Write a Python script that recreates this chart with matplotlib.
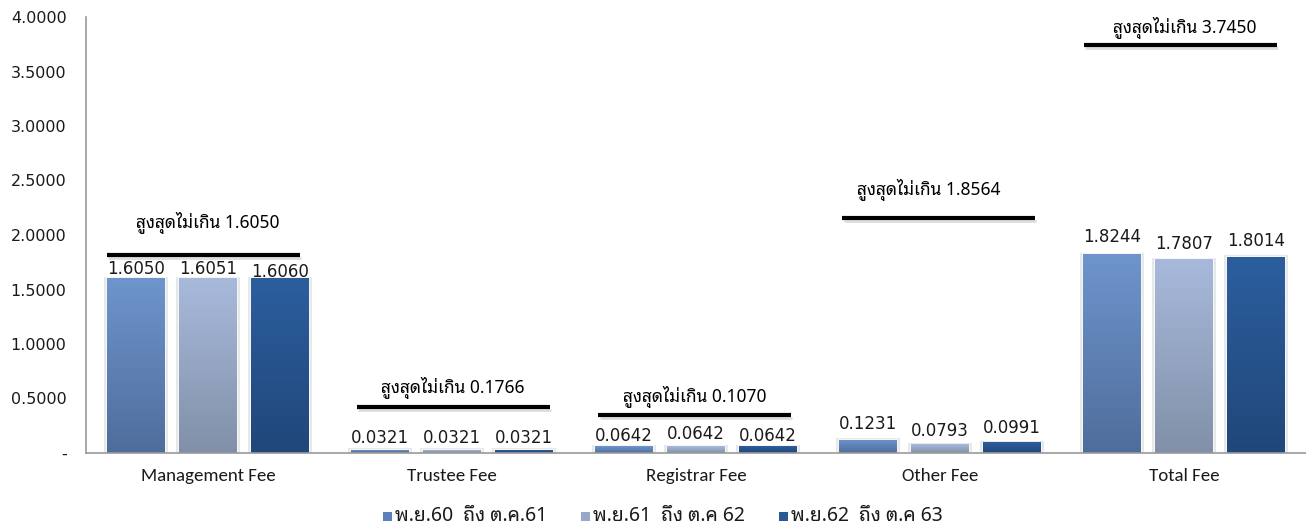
import matplotlib
matplotlib.use("Agg")
import matplotlib.pyplot as plt
import numpy as np
from matplotlib import font_manager as fm
from matplotlib.colors import LinearSegmentedColormap
from matplotlib.patches import Rectangle

# ---------------- data ----------------
categories = ["Management Fee", "Trustee Fee", "Registrar Fee", "Other Fee", "Total Fee"]
series_names = ["พ.ย.60  ถึง ต.ค.61", "พ.ย.61  ถึง ต.ค 62", "พ.ย.62  ถึง ต.ค 63"]
fy61 = [1.6050, 0.0321, 0.0642, 0.1231, 1.8244]
fy62 = [1.6051, 0.0321, 0.0642, 0.0793, 1.7807]
fy63 = [1.6060, 0.0321, 0.0642, 0.0991, 1.8014]
caps = [1.6050, 0.1766, 0.1070, 1.8564, 3.7450]
cap_label = "สูงสุดไม่เกิน"
yticks = [0.0, 0.5, 1.0, 1.5, 2.0, 2.5, 3.0, 3.5, 4.0]

# ---------------- fonts ----------------
available = {f.name for f in fm.fontManager.ttflist}
def pick(cands, default="DejaVu Sans"):
    for c in cands:
        if c in available:
            return c
    return default

thai = pick(["Noto Sans Thai Looped", "Noto Sans Thai", "Sarabun", "Krub", "Bai Jamjuree"])
latin = pick(["Carlito", "Open Sans", "Lato", "DejaVu Sans"])
plt.rcParams['font.family'] = [thai, 'DejaVu Sans']

# ---------------- styles ----------------
grads = [("#6E95CD", "#4F6D9C"), ("#A8BADC", "#8190A8"), ("#2C5E9E", "#20477A")]
legend_cols = ["#5B80BA", "#98A8C8", "#2A5A96"]
bar_w = 0.235
offsets = [-0.295, 0.0, 0.295]
lab_off = [[0, 2, 1, 5, 6], [0, 2, 2, 3, 4], [-2, 2, 1, 4, 5]]
# annotation line (y, x-left rel, x-right rel) and text y
ann_line = [(1.816, -0.415, 0.375), (0.422, -0.39, 0.40), (0.349, -0.40, 0.39),
            (2.156, -0.40, 0.39), (3.743, -0.41, 0.38)]
ann_text = [(2.11, 0.02), (0.60, 0.0), (0.515, 0.0), (2.41, -0.04), (3.90, 0.02)]

W, H = 1306, 528
fig = plt.figure(figsize=(W / 100, H / 100), dpi=100)
ax = fig.add_axes([86 / W, 1 - 453 / H, 1 - 86 / W, 436 / H])
ax.set_xlim(0, len(categories))
ax.set_ylim(0, 4.0)

x = np.arange(len(categories)) + 0.5
all_series = [fy61, fy62, fy63]
for s, vals in enumerate(all_series):
    cmap = LinearSegmentedColormap.from_list("g%d" % s, [grads[s][1], grads[s][0]])
    bars = ax.bar(x + offsets[s], vals, width=bar_w, color=grads[s][0],
                  edgecolor="none", zorder=2)
    for i, b in enumerate(bars):
        x0, w, h = b.get_x(), b.get_width(), b.get_height()
        ax.add_patch(Rectangle((x0 - 0.012, 0), w + 0.024, h + 0.012, facecolor="#E8E8E8",
                               edgecolor="none", zorder=1.5))
        ax.add_patch(Rectangle((x0 - 0.005, 0), w + 0.010, h + 0.006, facecolor="#F5F5F5",
                               edgecolor="none", zorder=1.6))
        grad = np.linspace(0, 1, 256).reshape(-1, 1)
        im = ax.imshow(grad, cmap=cmap, origin="lower", aspect="auto",
                       extent=[x0, x0 + w, 0, max(h, 1e-6)], zorder=2.1)
        im.set_clip_path(b)
        b.set_facecolor("none")
        ax.annotate("%.4f" % vals[i], (x0 + w / 2, h), xytext=(0, lab_off[s][i]),
                    textcoords="offset points", ha="center", va="bottom",
                    fontsize=12.0, family="DejaVu Sans", color="#1a1a1a", zorder=4)

for i, c in enumerate(categories):
    y, l, r = ann_line[i]
    ax.plot([x[i] + l, x[i] + r], [y, y], color="black", lw=3, solid_capstyle="butt", zorder=3)
    ax.plot([x[i] + l + 0.005, x[i] + r + 0.005], [y - 0.025, y - 0.025], color="#DDDDDD",
            lw=2, solid_capstyle="butt", zorder=2.9)
    ty, tdx = ann_text[i]
    ax.text(x[i] + (l + r) / 2 + tdx, ty, "%s %.4f" % (cap_label, caps[i]), ha="center",
            va="center", fontsize=12.5, family=[thai, "DejaVu Sans"], color="black", zorder=4)

ax.set_xticks(x)
ax.set_xticklabels(categories, fontsize=13.6, family=latin, color="#1a1a1a")
ax.set_yticks(yticks)
ax.set_yticklabels(["-"] + ["%.4f" % v for v in yticks[1:]], fontsize=11.5,
                   family="DejaVu Sans", color="#1a1a1a")
ax.tick_params(axis="both", length=0)
ax.tick_params(axis="y", pad=14)
ax.tick_params(axis="x", pad=11)
for sp in ["top", "right"]:
    ax.spines[sp].set_visible(False)
ax.spines["left"].set_color("#9A9A9A")
ax.spines["bottom"].set_color("#9A9A9A")
ax.spines["left"].set_linewidth(1.2)
ax.spines["bottom"].set_linewidth(1.2)
ax.set_facecolor("white")

# legend drawn manually in figure pixel coordinates
leg_x = [383, 581, 779]
leg_y = 516
for k in range(3):
    fig.patches.append(Rectangle(((leg_x[k]) / W, (H - leg_y - 4.5) / H), 9 / W, 9 / H,
                                 transform=fig.transFigure, facecolor=legend_cols[k],
                                 edgecolor="none"))
    fig.text((leg_x[k] + 12) / W, (H - leg_y) / H, series_names[k], ha="left", va="center",
             fontsize=14, family=[thai, "DejaVu Sans"], color="#1a1a1a")

fig.savefig("out.png", dpi=100)
